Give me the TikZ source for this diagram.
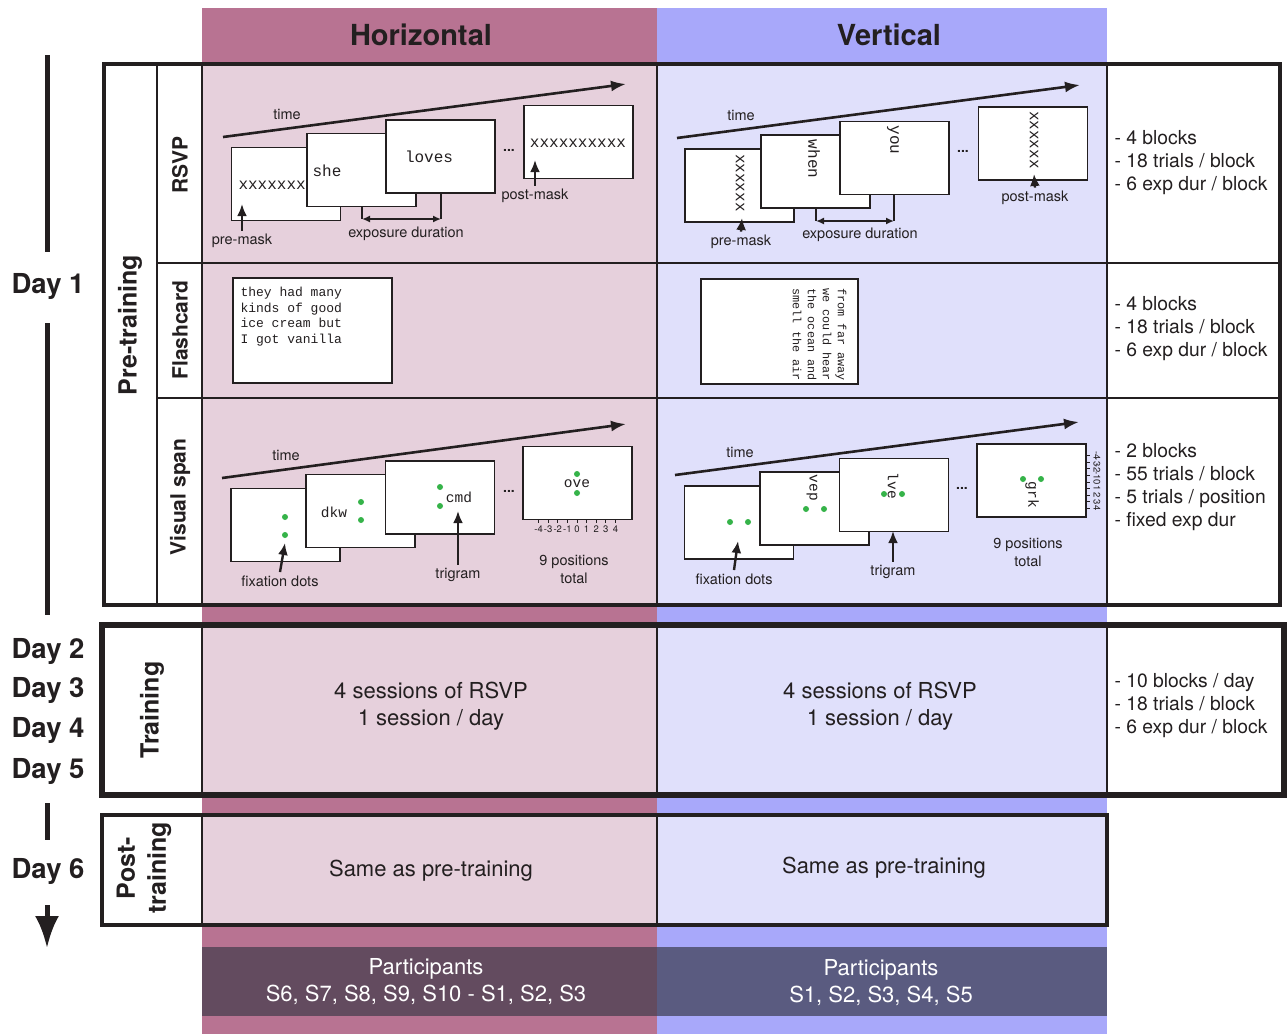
\documentclass[tikz,border=0pt]{standalone}
\usepackage{fontspec}
\setmainfont{TeX Gyre Heros}
\newfontfamily\monofont{Liberation Mono}
\usetikzlibrary{arrows.meta}
\definecolor{hdark}{HTML}{B87392}
\definecolor{hlight}{HTML}{E6D0DC}
\definecolor{vdark}{HTML}{A8A8FA}
\definecolor{vlight}{HTML}{E0E0FB}
\definecolor{hpart}{HTML}{634B5F}
\definecolor{vpart}{HTML}{5A5B80}
\definecolor{ink}{HTML}{231F20}
\definecolor{dotgreen}{HTML}{35B349}

\begin{document}
\begin{tikzpicture}[x=1pt,y=-1pt,>={Latex[length=12pt,width=10pt]},
  frame/.style={draw=ink,line width=1.8pt,fill=white,minimum width=109pt,minimum height=73pt,inner sep=0pt},
  lbl/.style={text=ink,font=\fontsize{14.5}{17}\selectfont},
  mono/.style={text=ink,font=\monofont\fontsize{16}{18}\selectfont},
  small/.style={text=ink,font=\monofont\fontsize{13}{15.5}\selectfont,align=left},
  note/.style={text=ink,anchor=west,align=left,font=\fontsize{19.3}{23}\selectfont},
  big/.style={text=ink,align=center,font=\fontsize{22}{27}\selectfont},
  side/.style={text=ink,rotate=90,align=center,font=\bfseries\fontsize{25}{29}\selectfont},
  sub/.style={text=ink,rotate=90,font=\bfseries\fontsize{21}{24}\selectfont},
  day/.style={text=ink,font=\bfseries\fontsize{27.5}{30}\selectfont},
  tick/.style={text=ink,font=\fontsize{9.5}{10}\selectfont,inner sep=0pt},
  parr/.style={->,draw=ink,line width=2.4pt},
  tarr/.style={-{Latex[length=15pt,width=11pt]},draw=ink,line width=2.6pt}]
\useasboundingbox (0,0) rectangle (1288,1034);

% columns
\fill[hdark] (202,8) rectangle (657,1034);
\fill[vdark] (657,8) rectangle (1107,1034);
\fill[hlight] (202,64) rectangle (657,605);
\fill[vlight] (657,64) rectangle (1107,605);
\fill[hlight] (202,625) rectangle (657,795);
\fill[vlight] (657,625) rectangle (1107,795);
\fill[hlight] (202,815) rectangle (657,925);
\fill[vlight] (657,815) rectangle (1107,925);
\fill[hpart] (202,947) rectangle (657,1016);
\fill[vpart] (657,947) rectangle (1107,1016);
\fill[white] (104,64) rectangle (202,605);
\fill[white] (1107,64) rectangle (1280,605);
\fill[white] (102,625) rectangle (202,795);
\fill[white] (1107,625) rectangle (1284,795);
\fill[white] (102,815) rectangle (202,925);

\node[text=ink,font=\bfseries\fontsize{29}{34}\selectfont] (hhead) at (421,35) {Horizontal};
\node[text=ink,font=\bfseries\fontsize{29}{34}\selectfont] (vhead) at (889,35) {Vertical};

% grid lines
\draw[ink,line width=1.8pt] (157,64) -- (157,605) (202,64) -- (202,605)
  (657,64) -- (657,605) (1107,64) -- (1107,605)
  (157,263) -- (1280,263) (157,398) -- (1280,398);
\draw[ink,line width=4pt] (104,64) rectangle (1280,605);
\draw[ink,line width=1.8pt] (202,625) -- (202,795) (657,625) -- (657,795) (1107,625) -- (1107,795);
\draw[ink,line width=6.5pt] (102,625) rectangle (1284,795);
\draw[ink,line width=1.8pt] (202,815) -- (202,925) (657,815) -- (657,925);
\draw[ink,line width=4pt] (102,815) rectangle (1107,925);

% day axis
\node[day] (day1) at (48,286) {Day 1};
\node[day] (day2) at (48,651) {Day 2};
\node[day] (day3) at (48,690) {Day 3};
\node[day] (day4) at (48,730) {Day 4};
\node[day] (day5) at (48,771) {Day 5};
\node[day] (day6) at (48,871) {Day 6};
\coordinate (a0) at (47,55);
\coordinate (a1) at (47,252);
\coordinate (a2) at (47,323);
\coordinate (a3) at (47,615);
\coordinate (a4) at (47,803);
\coordinate (a5) at (47,840);
\coordinate (a6) at (47,905);
\coordinate (a7) at (47,948);
\draw[ink,line width=5pt] (a0) -- (a1) (a2) -- (a3) (a4) -- (a5);
\draw[ink,line width=5pt,-{Latex[length=32pt,width=24pt]}] (a6) -- (a7);

% row labels
\node[side] (pre) at (130,325) {Pre-training};
\node[sub] (rsvp) at (180,165) {RSVP};
\node[sub] (flash) at (180,330) {Flashcard};
\node[sub] (vspan) at (180,497) {Visual span};
\node[side] (train) at (152,710) {Training};
\node[side,font=\bfseries\fontsize{25}{31}\selectfont] (post) at (144,868) {Post-\\training};

% RSVP horizontal
\coordinate (ht0) at (223,137);
\coordinate (ht1) at (626,84);
\draw[tarr] (ht0) -- (ht1);
\node[lbl] (htime) at (287,114) {time};
\node[frame] (h1) at (286,184) {};
\node[mono,anchor=west] (h1t) at (235,185) {xxxxxxx};
\node[frame] (h2) at (361.5,170) {};
\node[mono] (h2t) at (327,171) {she};
\node[frame] (h3) at (440.5,156.5) {};
\node[mono] (h3t) at (429,157) {loves};
\node[lbl,font=\bfseries\fontsize{14}{16}\selectfont] (hdots) at (509,150) {...};
\node[frame] (h4) at (578.5,142) {};
\node[mono] (h4t) at (578,143) {xxxxxxxxxx};
\node[lbl] (hpre) at (242,241) {pre-mask};
\coordinate (hpreT) at (242,204);
\draw[parr] (hpre.north) -- (hpreT);
\node[lbl] (hpost) at (535,196) {post-mask};
\coordinate (hpostT) at (535,160);
\draw[parr] (hpost.north) -- (hpostT);
\coordinate (he0) at (362,206);
\coordinate (he1) at (362,219);
\coordinate (he2) at (441,219);
\coordinate (he3) at (441,193);
\draw[ink,line width=2pt] (he0) -- (he1);
\draw[ink,line width=2.6pt] (he3) -- (he2);
\draw[ink,line width=2pt,<->,>={Latex[length=8pt,width=7pt]}] (he1) -- (he2);
\node[lbl] (hexp) at (406,234) {exposure duration};

% RSVP vertical
\coordinate (vt0) at (677,138);
\coordinate (vt1) at (1080,85);
\draw[tarr] (vt0) -- (vt1);
\node[lbl] (vtime) at (741,115) {time};
\node[frame] (v1) at (739.5,185.5) {};
\node[mono,rotate=-90] (v1t) at (740,183) {xxxxxx};
\node[frame] (v2) at (815.5,171.5) {};
\node[mono,rotate=-90] (v2t) at (814,159) {when};
\node[frame] (v3) at (894.5,158) {};
\node[mono,rotate=-90] (v3t) at (893,140) {you};
\node[lbl,font=\bfseries\fontsize{14}{16}\selectfont] (vdots) at (963,151) {...};
\node[frame] (v4) at (1033,143.5) {};
\node[mono,rotate=-90] (v4t) at (1034,140) {xxxxxx};
\node[lbl] (vpre) at (741,242) {pre-mask};
\coordinate (vpreT) at (742,218);
\draw[parr] (vpre.north) -- (vpreT);
\node[lbl] (vpost) at (1035,198) {post-mask};
\coordinate (vpostT) at (1034,174);
\draw[parr] (vpost.north) -- (vpostT);
\coordinate (ve0) at (816,208);
\coordinate (ve1) at (816,221);
\coordinate (ve2) at (894,221);
\coordinate (ve3) at (894,194);
\draw[ink,line width=2pt] (ve0) -- (ve1);
\draw[ink,line width=2.6pt] (ve3) -- (ve2);
\draw[ink,line width=2pt,<->,>={Latex[length=8pt,width=7pt]}] (ve1) -- (ve2);
\node[lbl] (vexp) at (860,235) {exposure duration};

% Flashcard
\node[frame,minimum width=159pt,minimum height=105pt] (hfc) at (312.5,330.5) {};
\node[small,anchor=north west] (hfct) at (237,284) {they had many\\kinds of good\\ice cream but\\I got vanilla};
\node[frame,minimum width=157pt,minimum height=105pt] (vfc) at (779.5,331.5) {};
\node[small,font=\monofont\fontsize{11.8}{15}\selectfont,rotate=-90,anchor=north west] (vfct) at (850,285) {from far away\\we could hear\\the ocean and\\smell the air};

% Visual span horizontal
\coordinate (hs0) at (222,478);
\coordinate (hs1) at (626,424);
\draw[tarr] (hs0) -- (hs1);
\node[lbl] (hstime) at (286,455) {time};
\node[frame] (hf1) at (285.5,525) {};
\fill[dotgreen] (285,517) circle (3) (285,535) circle (3);
\node[frame] (hf2) at (360.5,511) {};
\node[mono,font=\monofont\fontsize{14.5}{16}\selectfont] (hf2t) at (334,512) {dkw};
\fill[dotgreen] (361,502) circle (3) (361,520) circle (3);
\node[frame] (hf3) at (440,497.5) {};
\fill[dotgreen] (440,487) circle (3) (440,506) circle (3);
\node[mono,font=\monofont\fontsize{14.5}{16}\selectfont] (hf3t) at (459,497) {cmd};
\node[lbl,font=\bfseries\fontsize{14}{16}\selectfont] (hsdots) at (509,491) {...};
\node[frame] (hf4) at (577.5,483) {};
\fill[dotgreen] (577,474) circle (3) (577,493) circle (3);
\node[mono,font=\monofont\fontsize{14.5}{16}\selectfont] (hf4t) at (577,484) {ove};
\foreach \i in {-4,...,4} {
  \draw[ink,line width=1pt] (577+9.6*\i,519) -- (577+9.6*\i,523);
  \node[tick] (hr\i) at (577+9.6*\i,529) {\i};
}
\node[lbl] (hfix) at (280,581) {fixation dots};
\coordinate (hfixT) at (285,543);
\draw[parr] (hfix.north) -- (hfixT);
\node[lbl] (htri) at (458,575) {trigram};
\coordinate (htriT) at (458,511);
\draw[parr] (htri.north) -- (htriT);
\node[lbl,align=center,font=\fontsize{14.5}{18}\selectfont] (hpos) at (574,569) {9 positions\\total};

% Visual span vertical
\coordinate (vs0) at (675,475);
\coordinate (vs1) at (1079,422);
\draw[tarr] (vs0) -- (vs1);
\node[lbl] (vstime) at (740,452) {time};
\node[frame] (vf1) at (739,522.5) {};
\fill[dotgreen] (730,522) circle (3) (748,522) circle (3);
\node[frame] (vf2) at (814.5,508.5) {};
\node[mono,rotate=-90,font=\monofont\fontsize{14.5}{16}\selectfont] (vf2t) at (812,488) {vep};
\fill[dotgreen] (806,509) circle (3) (824,509) circle (3);
\node[frame] (vf3) at (894,495) {};
\node[mono,rotate=-90,font=\monofont\fontsize{14.5}{16}\selectfont] (vf3t) at (893,486) {lve};
\fill[dotgreen] (884,494) circle (3) (902,494) circle (3);
\node[lbl,font=\bfseries\fontsize{14}{16}\selectfont] (vsdots) at (962,488) {...};
\node[frame] (vf4) at (1031.5,480.5) {};
\fill[dotgreen] (1023,479) circle (3) (1041,479) circle (3);
\node[mono,rotate=-90,font=\monofont\fontsize{14.5}{16}\selectfont] (vf4t) at (1032,495) {grk};
\foreach \i in {-4,...,4} {
  \draw[ink,line width=1pt] (1086,482+6.6*\i) -- (1090,482+6.6*\i);
  \node[tick,rotate=-90] (vr\i) at (1097,482+6.6*\i) {\i};
}
\node[lbl] (vfix) at (734,579) {fixation dots};
\coordinate (vfixT) at (738,541);
\draw[parr] (vfix.north) -- (vfixT);
\node[lbl] (vtri) at (893,572) {trigram};
\coordinate (vtriT) at (893,531);
\draw[parr] (vtri.north) -- (vtriT);
\node[lbl,align=center,font=\fontsize{14.5}{18}\selectfont] (vpos) at (1028,552) {9 positions\\total};

% notes
\node[note] (nrsvp) at (1111,163) {- 4 blocks\\- 18 trials / block\\- 6 exp dur / block};
\node[note] (nflash) at (1111,329) {- 4 blocks\\- 18 trials / block\\- 6 exp dur / block};
\node[note] (nvspan) at (1111,487) {- 2 blocks\\- 55 trials / block\\- 5 trials / position\\- fixed exp dur};
\node[note] (ntrain) at (1111,706) {- 10 blocks / day\\- 18 trials / block\\- 6 exp dur / block};

% training, post-training, participants
\node[big] (htrain) at (431,706) {4 sessions of RSVP\\1 session / day};
\node[big] (vtrain) at (880,706) {4 sessions of RSVP\\1 session / day};
\node[big] (hpost2) at (431,871) {Same as pre-training};
\node[big] (vpost2) at (884,868) {Same as pre-training};
\node[big,text=white] (hpart) at (426,982) {Participants\\S6, S7, S8, S9, S10 - S1, S2, S3};
\node[big,text=white] (vpart) at (881,983) {Participants\\S1, S2, S3, S4, S5};
\end{tikzpicture}
\end{document}
